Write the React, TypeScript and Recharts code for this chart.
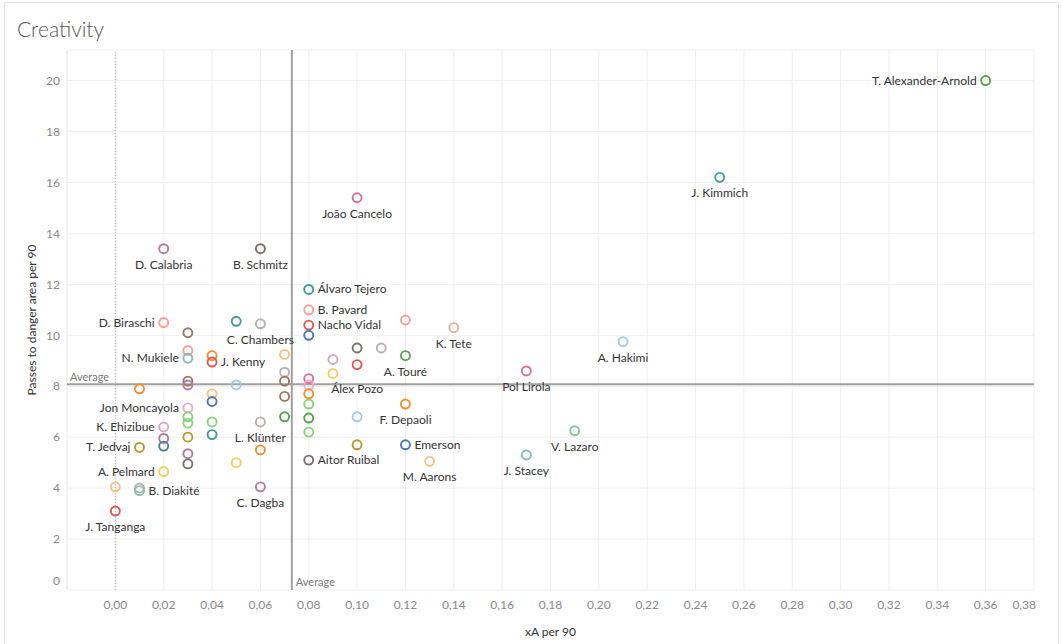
import { ScatterChart, Scatter, XAxis, YAxis, CartesianGrid, ReferenceLine } from "recharts";

// one entry per player; unlabeled marks have an empty name
const players = [
  "T. Alexander-Arnold", "J. Kimmich", "João Cancelo", "D. Calabria", "B. Schmitz",
  "Álvaro Tejero", "B. Pavard", "Nacho Vidal", "", "D. Biraschi",
  "", "C. Chambers", "", "", "N. Mukiele",
  "", "J. Kenny", "", "", "",
  "", "A. Touré", "Álex Pozo", "", "",
  "K. Tete", "A. Hakimi", "Pol Lirola", "", "",
  "", "", "", "", "",
  "", "", "", "", "",
  "Jon Moncayola", "", "", "", "L. Klünter",
  "", "K. Ehizibue", "", "", "",
  "", "T. Jedvaj", "", "", "",
  "", "A. Pelmard", "", "", "B. Diakité",
  "C. Dagba", "J. Tanganga", "", "", "",
  "", "F. Depaoli", "", "Emerson", "Aitor Ruibal",
  "M. Aarons", "J. Stacey", "V. Lazaro",
];

const xaPer90 = [
  0.36, 0.25, 0.10, 0.02, 0.06,
  0.08, 0.08, 0.08, 0.08, 0.02,
  0.05, 0.06, 0.03, 0.03, 0.03,
  0.04, 0.04, 0.07, 0.10, 0.11,
  0.09, 0.12, 0.10, 0.09, 0.12,
  0.14, 0.21, 0.17, 0.07, 0.08,
  0.08, 0.08, 0.07, 0.01, 0.03,
  0.03, 0.05, 0.04, 0.04, 0.07,
  0.03, 0.03, 0.03, 0.04, 0.06,
  0.07, 0.02, 0.02, 0.02, 0.03,
  0.04, 0.01, 0.03, 0.03, 0.05,
  0.06, 0.02, 0.00, 0.01, 0.01,
  0.06, 0.00, 0.08, 0.08, 0.08,
  0.10, 0.12, 0.10, 0.12, 0.08,
  0.13, 0.17, 0.19,
];

const passesPer90 = [
  20.0, 16.2, 15.4, 13.4, 13.4,
  11.8, 11.0, 10.4, 10.0, 10.5,
  10.55, 10.45, 10.1, 9.4, 9.1,
  9.2, 8.95, 9.25, 9.5, 9.5,
  9.05, 9.2, 8.85, 8.5, 10.6,
  10.3, 9.75, 8.6, 8.55, 8.3,
  8.05, 7.7, 8.2, 7.9, 8.2,
  8.05, 8.05, 7.7, 7.4, 7.6,
  7.15, 6.8, 6.55, 6.6, 6.6,
  6.8, 6.4, 5.95, 5.65, 6.0,
  6.1, 5.6, 5.35, 4.95, 5.0,
  5.5, 4.65, 4.05, 4.0, 3.9,
  4.05, 3.1, 7.3, 6.75, 6.2,
  6.8, 7.3, 5.7, 5.7, 5.1,
  5.05, 5.3, 6.25,
];

const xTicks = [0, 0.02, 0.04, 0.06, 0.08, 0.1, 0.12, 0.14, 0.16, 0.18, 0.2, 0.22, 0.24, 0.26, 0.28, 0.3, 0.32, 0.34, 0.36, 0.38];
const yTicks = [0, 2, 4, 6, 8, 10, 12, 14, 16, 18, 20];

const avgXA = 0.073;
const avgPasses = 8.08;

// tableau 20 colours, one per mark
const C = {
  blue: "#4e79a7", lblue: "#a0cbe8", orange: "#f28e2b", lorange: "#ffbe7d",
  green: "#59a14f", lgreen: "#8cd17d", olive: "#b6992d", yellow: "#f1ce63",
  teal: "#499894", lteal: "#86bcb6", red: "#e15759", lred: "#ff9d9a",
  gray: "#79706e", lgray: "#bab0ac", pink: "#d37295", lpink: "#f2a7c8",
  purple: "#b07aa1", lpurple: "#d4a6c8", brown: "#9d7660", lbrown: "#d7b5a6",
};

const pointColors = [
  C.green, C.teal, C.pink, C.purple, C.gray,
  C.teal, C.lred, C.red, C.blue, C.lred,
  C.teal, C.lgray, C.brown, C.lred, C.lteal,
  C.orange, C.red, C.lorange, C.gray, C.lgray,
  C.lpurple, C.green, C.red, C.yellow, C.lred,
  C.lbrown, C.lblue, C.pink, C.lgray, C.pink,
  C.lpink, C.orange, C.brown, C.orange, C.brown,
  C.purple, C.lblue, C.lorange, C.blue, C.brown,
  C.lpink, C.lgreen, C.lgreen, C.lgreen, C.lgray,
  C.green, C.lpurple, C.purple, C.blue, C.olive,
  C.teal, C.olive, C.purple, C.gray, C.yellow,
  C.orange, C.yellow, C.lorange, C.lgray, C.lteal,
  C.purple, C.red, C.lgreen, C.green, C.lgreen,
  C.lblue, C.orange, C.olive, C.blue, C.gray,
  C.lorange, C.lteal, "#8cc29c",
];

const labelSide: Record<string, { side: "left" | "right" | "below"; dy?: number }> = {
  "T. Alexander-Arnold": { side: "left" },
  "Álvaro Tejero": { side: "right" },
  "B. Pavard": { side: "right" },
  "Nacho Vidal": { side: "right" },
  "D. Biraschi": { side: "left" },
  "N. Mukiele": { side: "left" },
  "J. Kenny": { side: "right" },
  "Álex Pozo": { side: "below", dy: 8 },
  "Jon Moncayola": { side: "left" },
  "K. Ehizibue": { side: "left" },
  "T. Jedvaj": { side: "left" },
  "A. Pelmard": { side: "left" },
  "B. Diakité": { side: "right" },
  "Emerson": { side: "right" },
  "Aitor Ruibal": { side: "right" },
};

const FONT = "Lato, 'Open Sans', sans-serif";

const data = players.map((name, i) => ({
  name,
  xa: xaPer90[i],
  passes: passesPer90[i],
  color: pointColors[i],
}));

function Mark(props: any) {
  const { cx, cy, payload } = props;
  if (cx == null || cy == null) return null;
  const name: string = payload.name;
  let label = null;
  if (name) {
    const pos = labelSide[name] || { side: "below" };
    const common = { fontFamily: FONT, fontSize: 12, fill: "#333" };
    if (pos.side === "left") {
      label = <text x={cx - 9} y={cy + 4} textAnchor="end" {...common}>{name}</text>;
    } else if (pos.side === "right") {
      label = <text x={cx + 9} y={cy + 4} textAnchor="start" {...common}>{name}</text>;
    } else {
      label = <text x={cx} y={cy + 20 + (pos.dy || 0)} textAnchor="middle" {...common}>{name}</text>;
    }
  }
  return (
    <g>
      <circle cx={cx} cy={cy} r={4.5} fill="none" stroke={payload.color} strokeWidth={1.9} />
      {label}
    </g>
  );
}

function XTick(props: any) {
  const { x, y, payload } = props;
  const last = payload.value >= 0.38;
  return (
    <text x={last ? x + 2 : x} y={y} dy="0.71em" textAnchor={last ? "end" : "middle"}
      fontFamily={FONT} fontSize={12} fill="#888">
      {payload.value.toFixed(2).replace(".", ",")}
    </text>
  );
}

function YTick(props: any) {
  const { x, y, payload } = props;
  return (
    <text x={x} y={payload.value === 0 ? y - 9 : y} dy="0.355em" textAnchor="end"
      fontFamily={FONT} fontSize={12} fill="#888">
      {payload.value}
    </text>
  );
}

export default function App() {
  return (
    <div style={{ position: "absolute", left: 0, top: 0, width: 1063, height: 644, background: "#fff", overflow: "hidden" }}>
      <div style={{ position: "absolute", left: 4, top: 2, width: 1053, height: 700, border: "1px solid #e2e2e2" }} />
      <div style={{ position: "absolute", left: 17, top: 18, fontFamily: FONT, fontWeight: 300, fontSize: 21, lineHeight: 1, color: "#555" }}>
        Creativity
      </div>
      <div style={{ position: "absolute", left: 0, top: 0 }}>
        <ScatterChart width={1063} height={644} margin={{ top: 50, right: 29, bottom: 0, left: 0 }}>
          <CartesianGrid stroke="#efefef" strokeWidth={1} />
          <XAxis
            type="number"
            dataKey="xa"
            domain={[-0.02, 0.38]}
            ticks={xTicks}
            interval={0}
            height={54}
            axisLine={false}
            tickLine={false}
            tickSize={0}
            tickMargin={10}
            tick={<XTick />}
            allowDataOverflow
            label={{ value: "xA per 90", position: "insideBottom", offset: 8, style: { fontFamily: FONT, fontSize: 12, fill: "#333" } }}
          />
          <YAxis
            type="number"
            dataKey="passes"
            domain={[0, 21.2]}
            ticks={yTicks}
            interval={0}
            width={67}
            axisLine={false}
            tickLine={false}
            tickSize={0}
            tickMargin={7}
            tick={<YTick />}
            allowDataOverflow
            label={{ value: "Passes to danger area per 90", angle: -90, position: "center", dx: -2, style: { fontFamily: FONT, fontSize: 12, fill: "#333" } }}
          />
          <ReferenceLine x={-0.02} stroke="#efefef" />
          <ReferenceLine x={0} stroke="#b5b5b5" strokeDasharray="1 2" />
          <ReferenceLine
            x={avgXA}
            stroke="#a0a0a0"
            strokeWidth={2}
            label={{ value: "Average", position: "insideBottomLeft", offset: 4, style: { fontFamily: FONT, fontSize: 11, fill: "#777" } }}
          />
          <ReferenceLine
            y={avgPasses}
            stroke="#a0a0a0"
            strokeWidth={2}
            label={{ value: "Average", position: "insideBottomLeft", offset: 3, style: { fontFamily: FONT, fontSize: 11, fill: "#777" } }}
          />
          <Scatter data={data} shape={<Mark />} isAnimationActive={false} />
        </ScatterChart>
      </div>
    </div>
  );
}
